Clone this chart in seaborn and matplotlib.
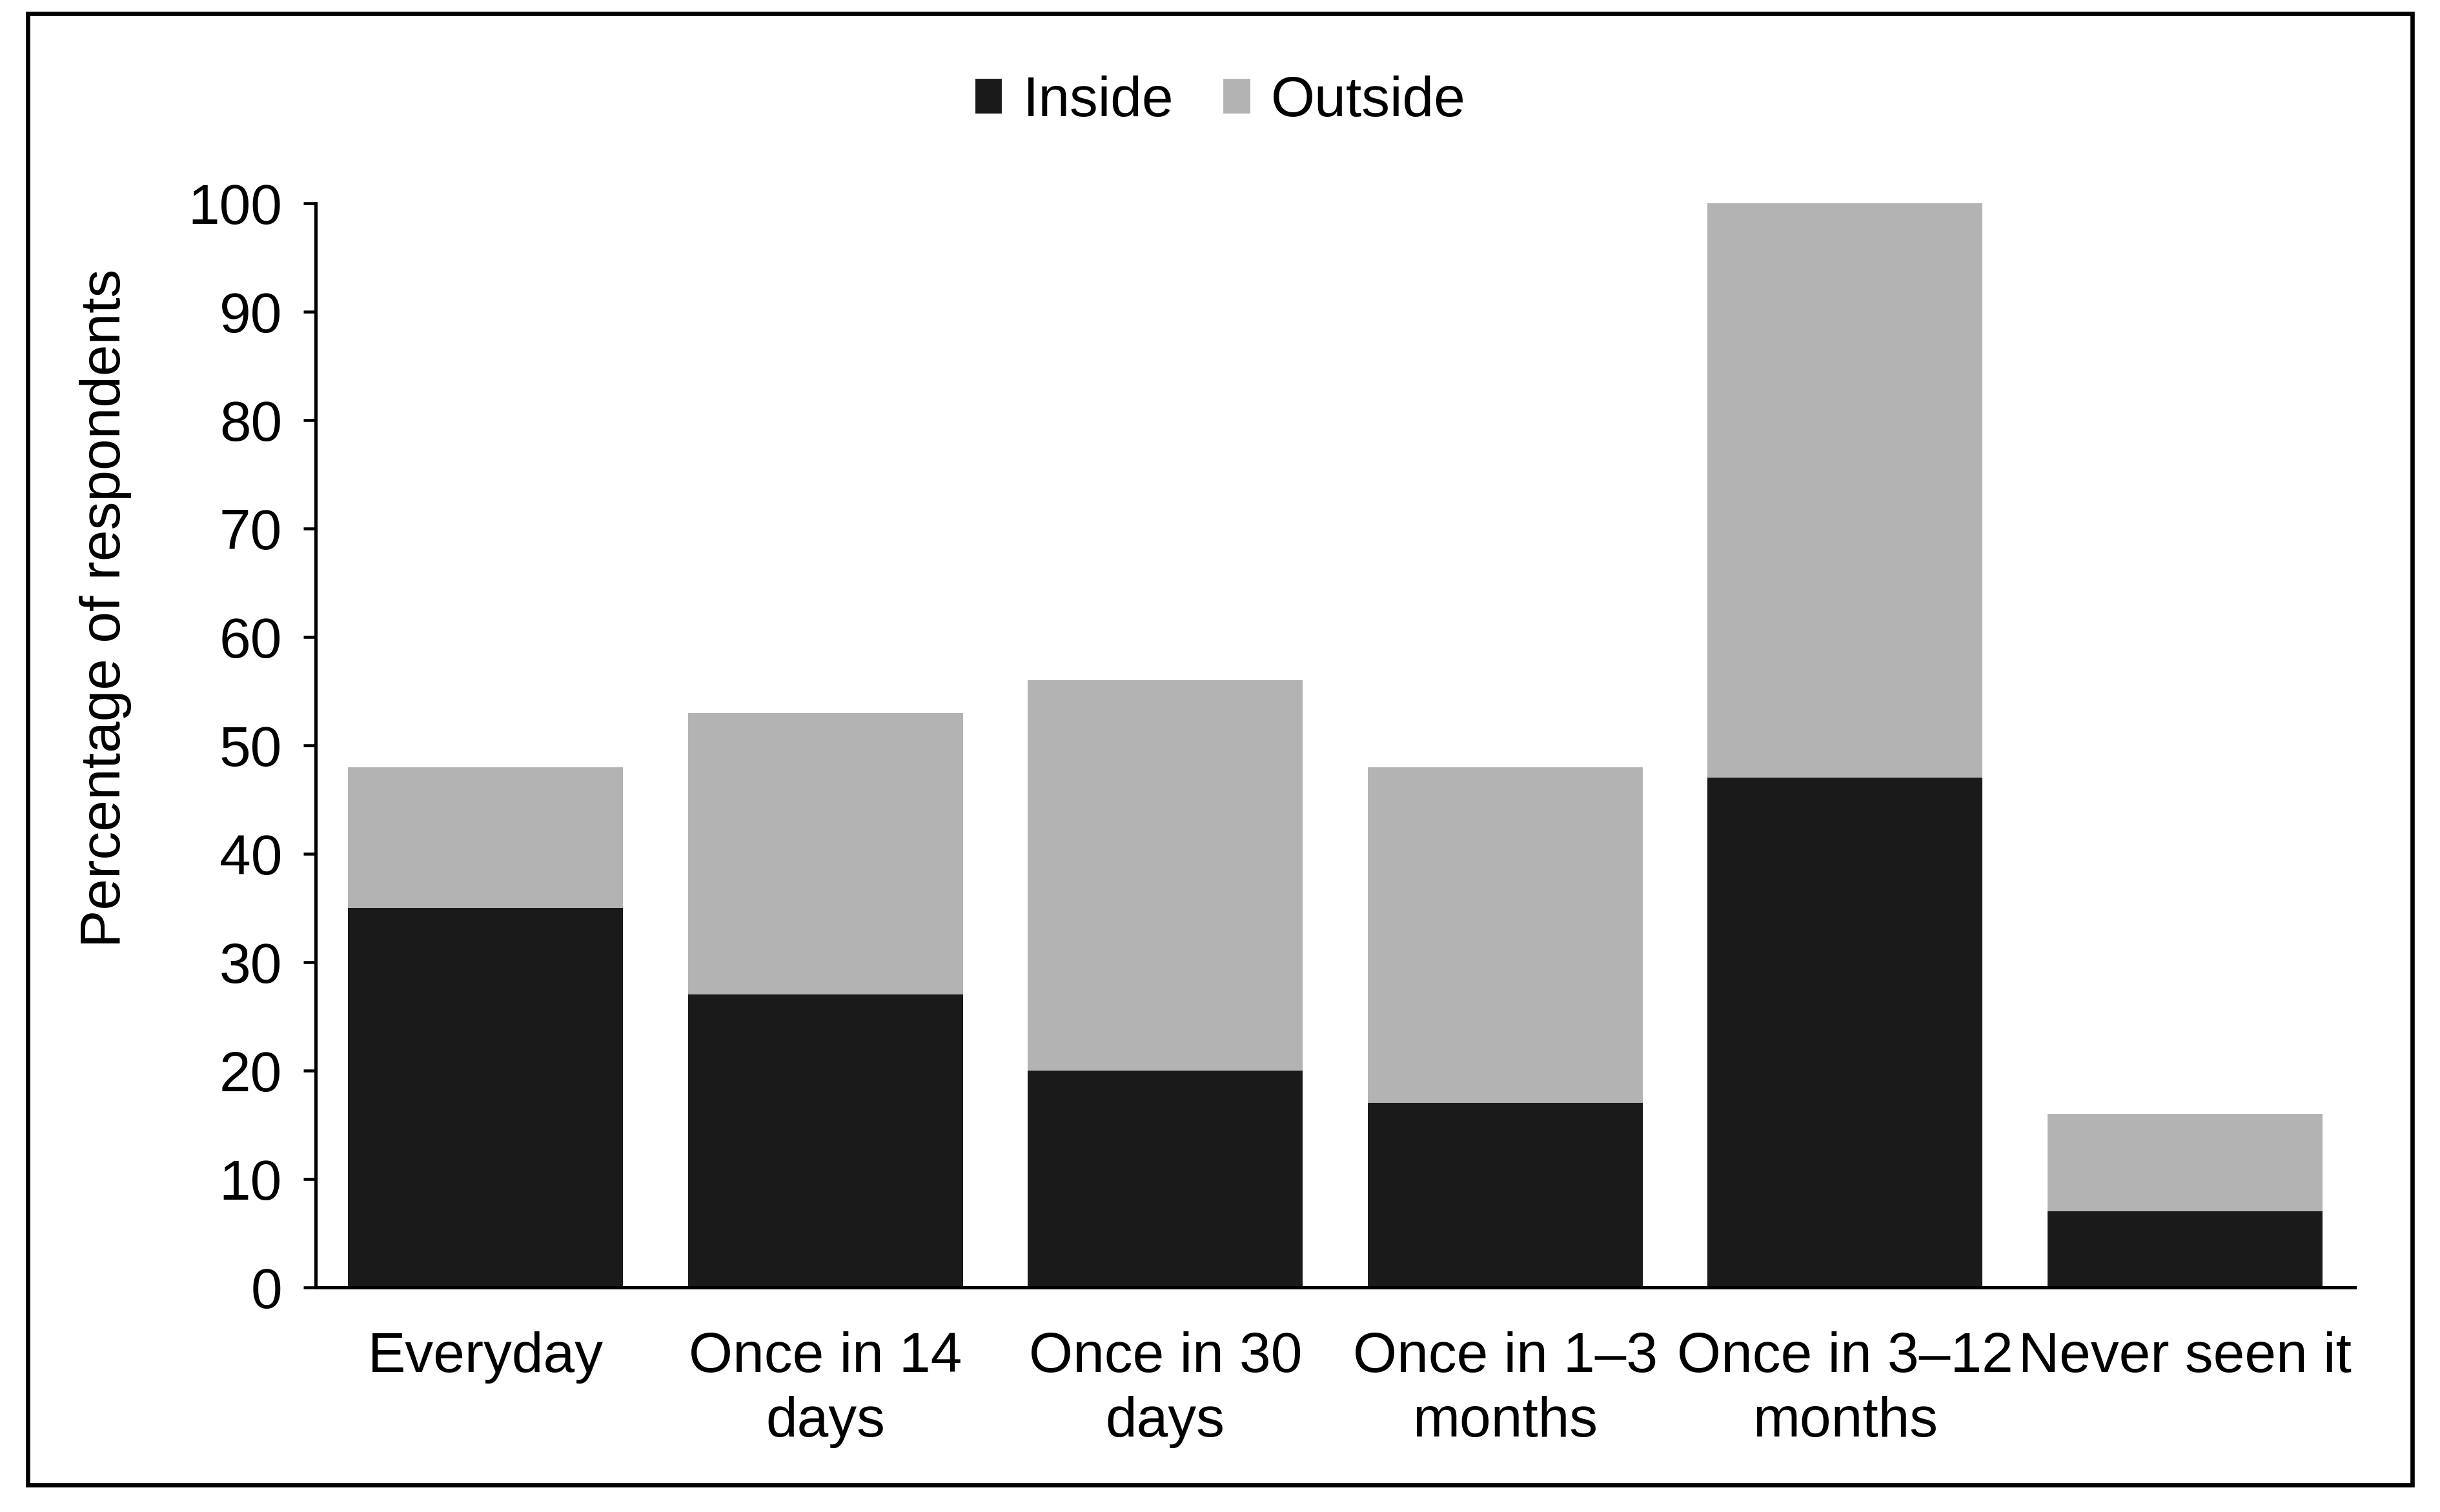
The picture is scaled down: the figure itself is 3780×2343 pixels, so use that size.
import numpy as np
import pandas as pd
import matplotlib
matplotlib.use('Agg')
import matplotlib.pyplot as plt
import seaborn as sns
from matplotlib.patches import Patch, Rectangle

# data
categories = ['Everyday', 'Once in 14\ndays', 'Once in 30\ndays',
              'Once in 1\u20133\nmonths', 'Once in 3\u201312\nmonths', 'Never seen it']
inside = [35, 27, 20, 17, 47, 7]
outside = [13, 26, 36, 31, 53, 9]
yticks = [0, 10, 20, 30, 40, 50, 60, 70, 80, 90, 100]

inside_col = '#1a1a1a'
outside_col = '#b3b3b3'

sns.set_style('white')
plt.rcParams['font.family'] = ['Liberation Sans', 'DejaVu Sans']
plt.rcParams['text.color'] = 'black'
plt.rcParams['axes.labelcolor'] = 'black'
plt.rcParams['xtick.color'] = 'black'
plt.rcParams['ytick.color'] = 'black'

fs = 21

df = pd.DataFrame({'cat': categories, 'Inside': inside, 'Outside': outside})
df['Total'] = df['Inside'] + df['Outside']

fig = plt.figure(figsize=(12.6, 7.8133), dpi=300)
ax = fig.add_axes([489 / 3780, 1 - 1996 / 2344, (3648 - 489) / 3780, (1996 - 316) / 2344])

sns.barplot(data=df, x='cat', y='Total', color=outside_col, width=0.81,
            saturation=1, ax=ax, edgecolor='none')
sns.barplot(data=df, x='cat', y='Inside', color=inside_col, width=0.81,
            saturation=1, ax=ax, edgecolor='none')

ax.set_xlim(-0.5, len(categories) - 0.5)
ax.set_ylim(0, 100)
ax.set_yticks(yticks)
ax.set_yticklabels([str(t) for t in yticks], fontsize=fs)
ax.set_ylabel('Percentage of respondents', fontsize=fs, va='center')
ax.yaxis.set_label_coords(-0.103, 0.627)
ax.set_xlabel('')

# category labels centred, ticks on the boundaries
ax.set_xticks(np.arange(len(categories)))
ax.set_xticklabels(categories, fontsize=fs, linespacing=1.3)
ax.tick_params(axis='x', which='major', length=0, pad=16)
ax.set_xticks(np.arange(len(categories) + 1) - 0.5, minor=True)
ax.tick_params(axis='x', which='minor', length=4.5, width=1.1, direction='out')
ax.tick_params(axis='y', length=4.5, width=1.1, direction='out', pad=8, left=True)

sns.despine(ax=ax)
for s in ['left', 'bottom']:
    ax.spines[s].set_linewidth(1.2)
    ax.spines[s].set_color('black')

handles = [Patch(facecolor=inside_col, label='Inside'),
           Patch(facecolor=outside_col, label='Outside')]
fig.legend(handles=handles, loc='center', bbox_to_anchor=(0.5, 1 - 158 / 2344), ncol=2,
           frameon=False, fontsize=fs, handlelength=0.52, handleheight=0.65,
           handletextpad=0.35, columnspacing=0.85)

# outer frame
fig.patches.append(Rectangle((43 / 3780, 1 - 2302 / 2344), (3737 - 43) / 3780, (2302 - 22) / 2344,
                             transform=fig.transFigure, fill=False, edgecolor='black', linewidth=1.6))

fig.savefig('out.png', dpi=300, facecolor='white')
